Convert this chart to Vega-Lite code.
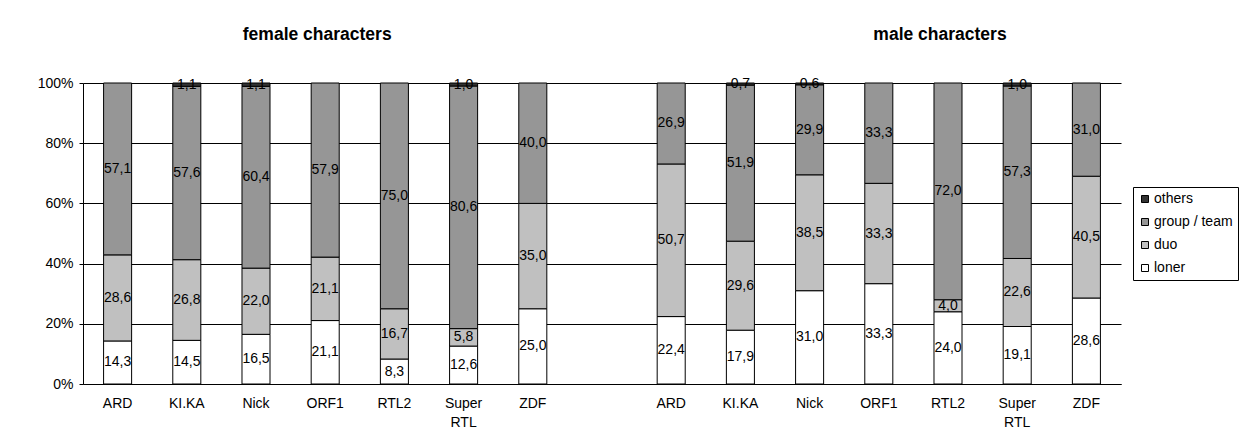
{
  "$schema": "https://vega.github.io/schema/vega-lite/v6.json",
  "width": 1038,
  "height": 301,
  "autosize": {"type": "none"},
  "padding": {"left": 83, "top": 83, "right": 122, "bottom": 57},
  "background": "white",
  "config": {
    "locale": {"number": {"decimal": ",", "thousands": ".", "grouping": [3], "currency": ["", " €"]}},
    "font": "Liberation Sans",
    "view": {"stroke": null},
    "axis": {"labelColor": "black", "labelFontSize": 14, "labelFont": "Liberation Sans", "domainColor": "black", "domainWidth": 1, "tickColor": "black", "gridColor": "black", "gridWidth": 1, "gridOpacity": 1, "title": null},
    "legend": {"labelFontSize": 14, "labelColor": "black", "labelFont": "Liberation Sans"}
  },
  "layer": [
    {
      "data": {"values": [
        {"slot": "female|ARD", "type": "loner", "value": 14.3},
        {"slot": "female|ARD", "type": "duo", "value": 28.6},
        {"slot": "female|ARD", "type": "group / team", "value": 57.1},
        {"slot": "female|KI.KA", "type": "loner", "value": 14.5},
        {"slot": "female|KI.KA", "type": "duo", "value": 26.8},
        {"slot": "female|KI.KA", "type": "group / team", "value": 57.6},
        {"slot": "female|KI.KA", "type": "others", "value": 1.1},
        {"slot": "female|Nick", "type": "loner", "value": 16.5},
        {"slot": "female|Nick", "type": "duo", "value": 22.0},
        {"slot": "female|Nick", "type": "group / team", "value": 60.4},
        {"slot": "female|Nick", "type": "others", "value": 1.1},
        {"slot": "female|ORF1", "type": "loner", "value": 21.1},
        {"slot": "female|ORF1", "type": "duo", "value": 21.1},
        {"slot": "female|ORF1", "type": "group / team", "value": 57.9},
        {"slot": "female|RTL2", "type": "loner", "value": 8.3},
        {"slot": "female|RTL2", "type": "duo", "value": 16.7},
        {"slot": "female|RTL2", "type": "group / team", "value": 75.0},
        {"slot": "female|Super RTL", "type": "loner", "value": 12.6},
        {"slot": "female|Super RTL", "type": "duo", "value": 5.8},
        {"slot": "female|Super RTL", "type": "group / team", "value": 80.6},
        {"slot": "female|Super RTL", "type": "others", "value": 1.0},
        {"slot": "female|ZDF", "type": "loner", "value": 25.0},
        {"slot": "female|ZDF", "type": "duo", "value": 35.0},
        {"slot": "female|ZDF", "type": "group / team", "value": 40.0},
        {"slot": "male|ARD", "type": "loner", "value": 22.4},
        {"slot": "male|ARD", "type": "duo", "value": 50.7},
        {"slot": "male|ARD", "type": "group / team", "value": 26.9},
        {"slot": "male|KI.KA", "type": "loner", "value": 17.9},
        {"slot": "male|KI.KA", "type": "duo", "value": 29.6},
        {"slot": "male|KI.KA", "type": "group / team", "value": 51.9},
        {"slot": "male|KI.KA", "type": "others", "value": 0.7},
        {"slot": "male|Nick", "type": "loner", "value": 31.0},
        {"slot": "male|Nick", "type": "duo", "value": 38.5},
        {"slot": "male|Nick", "type": "group / team", "value": 29.9},
        {"slot": "male|Nick", "type": "others", "value": 0.6},
        {"slot": "male|ORF1", "type": "loner", "value": 33.3},
        {"slot": "male|ORF1", "type": "duo", "value": 33.3},
        {"slot": "male|ORF1", "type": "group / team", "value": 33.3},
        {"slot": "male|RTL2", "type": "loner", "value": 24.0},
        {"slot": "male|RTL2", "type": "duo", "value": 4.0},
        {"slot": "male|RTL2", "type": "group / team", "value": 72.0},
        {"slot": "male|Super RTL", "type": "loner", "value": 19.1},
        {"slot": "male|Super RTL", "type": "duo", "value": 22.6},
        {"slot": "male|Super RTL", "type": "group / team", "value": 57.3},
        {"slot": "male|Super RTL", "type": "others", "value": 1.0},
        {"slot": "male|ZDF", "type": "loner", "value": 28.6},
        {"slot": "male|ZDF", "type": "duo", "value": 40.5},
        {"slot": "male|ZDF", "type": "group / team", "value": 31.0}
      ]},
      "transform": [
        {"calculate": "indexof(['loner','duo','group / team','others'], datum.type)", "as": "ord"},
        {"stack": "value", "groupby": ["slot"], "sort": [{"field": "ord", "order": "ascending"}], "offset": "normalize", "as": ["v0", "v1"]},
        {"calculate": "(datum.v0 + datum.v1) / 2", "as": "mid"}
      ],
      "encoding": {
        "x": {
          "field": "slot", "type": "nominal",
          "scale": {
            "domain": ["female|ARD", "female|KI.KA", "female|Nick", "female|ORF1", "female|RTL2", "female|Super RTL", "female|ZDF", "gap", "male|ARD", "male|KI.KA", "male|Nick", "male|ORF1", "male|RTL2", "male|Super RTL", "male|ZDF"],
            "paddingInner": 0.595, "paddingOuter": 0.2975
          },
          "axis": {
            "labelAngle": 0, "ticks": false, "labelPadding": 12, "labelBaseline": "top", "labelLineHeight": 19,
            "labelExpr": "datum.value == 'gap' ? '' : (indexof(datum.value, 'Super') >= 0 ? ['Super', 'RTL'] : split(datum.value, '|')[1])"
          }
        }
      },
      "layer": [
        {
          "mark": {"type": "bar", "stroke": "black", "strokeWidth": 1},
          "encoding": {
            "y": {"field": "v0", "type": "quantitative", "scale": {"domain": [0, 1]},
                  "axis": {"values": [0, 0.2, 0.4, 0.6, 0.8, 1], "format": ".0%", "grid": true, "tickSize": 4, "labelPadding": 6}},
            "y2": {"field": "v1"},
            "color": {
              "field": "type", "type": "nominal",
              "scale": {"domain": ["others", "group / team", "duo", "loner"], "range": ["#333333", "#969696", "#c0c0c0", "#ffffff"]},
              "legend": {
                "title": null, "orient": "none", "legendX": 1050, "legendY": 104,
                "strokeColor": "black", "fillColor": "white", "padding": 5,
                "symbolType": "square", "symbolSize": 49, "symbolStrokeColor": "black", "symbolStrokeWidth": 1,
                "rowPadding": 9, "labelOffset": 2
              }
            }
          }
        },
        {
          "mark": {"type": "text", "fontSize": 14, "baseline": "middle", "color": "black", "font": "Liberation Sans"},
          "encoding": {
            "y": {"field": "mid", "type": "quantitative", "scale": {"domain": [0, 1]}},
            "text": {"field": "value", "type": "quantitative", "format": ".1f"}
          }
        }
      ]
    },
    {
      "data": {"values": [
        {"slot": "female|ORF1", "label": "female characters"},
        {"slot": "male|RTL2", "label": "male characters"}
      ]},
      "mark": {"type": "text", "fontSize": 17.5, "fontWeight": "bold", "color": "black", "dx": -8, "baseline": "middle", "font": "Liberation Sans"},
      "encoding": {
        "x": {
          "field": "slot", "type": "nominal",
          "scale": {
            "domain": ["female|ARD", "female|KI.KA", "female|Nick", "female|ORF1", "female|RTL2", "female|Super RTL", "female|ZDF", "gap", "male|ARD", "male|KI.KA", "male|Nick", "male|ORF1", "male|RTL2", "male|Super RTL", "male|ZDF"],
            "paddingInner": 0.595, "paddingOuter": 0.2975
          }
        },
        "y": {"datum": 1.16, "type": "quantitative", "scale": {"domain": [0, 1]}},
        "text": {"field": "label"}
      }
    }
  ]
}
